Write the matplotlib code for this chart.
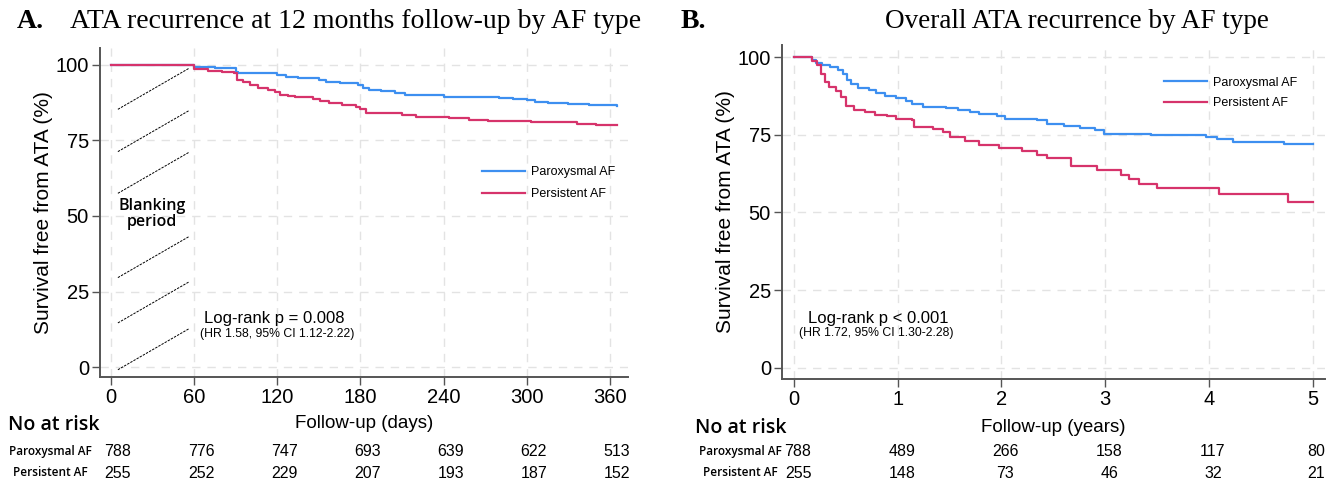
import matplotlib
matplotlib.use("Agg")
import matplotlib.pyplot as plt
import matplotlib.transforms as mtransforms

W, H = 1333, 487
fig = plt.figure(figsize=(W / 100, H / 100), dpi=100)
plt.rcParams['font.family'] = ['Liberation Sans', 'DejaVu Sans']

BLUE = '#3d8ff0'
RED = '#d6336b'
GRID = '#e3e3e3'
SPINE = '#555555'

# ---------------- data ----------------
series_labels = ['Paroxysmal AF', 'Persistent AF']

# Panel A (days)
a_par_t = [0, 60, 75, 90, 92, 120, 126, 135, 150, 155, 165, 178, 182, 186, 195, 205, 212, 225, 240, 280, 290, 300, 306, 315, 330, 345, 365]
a_par_s = [100, 99.3, 99.0, 97.8, 97.2, 96.8, 96.0, 95.6, 95.0, 94.3, 94.0, 93.2, 92.2, 91.6, 91.3, 90.8, 90.2, 89.9, 89.5, 89.2, 88.8, 88.4, 87.8, 87.5, 87.2, 86.7, 86.5]
a_per_t = [0, 60, 70, 80, 89, 91, 95, 100, 106, 113, 118, 122, 128, 133, 146, 151, 157, 167, 177, 180, 184, 210, 220, 244, 258, 272, 303, 336, 350, 365]
a_per_s = [100, 98.6, 98.1, 97.6, 97.2, 95.0, 94.2, 93.3, 92.3, 91.6, 91.0, 90.2, 89.6, 89.3, 88.8, 87.9, 87.3, 86.8, 86.0, 85.3, 84.2, 83.4, 82.9, 82.4, 81.9, 81.6, 81.1, 80.5, 80.1, 80.1]
a_xticks = [0, 60, 120, 180, 240, 300, 360]
a_risk_par = [788, 776, 747, 693, 639, 622, 513]
a_risk_per = [255, 252, 229, 207, 193, 187, 152]

# Panel B (years)
b_par_t = [0, 0.17, 0.21, 0.27, 0.35, 0.42, 0.47, 0.51, 0.55, 0.62, 0.72, 0.79, 0.88, 0.98, 1.08, 1.14, 1.24, 1.47, 1.58, 1.70, 1.78, 1.96, 2.03, 2.34, 2.44, 2.60, 2.76, 2.90, 2.99, 3.44, 3.97, 4.08, 4.23, 4.72, 5.0]
b_par_s = [100, 99.1, 98.2, 97.5, 96.8, 95.8, 94.6, 92.6, 91.2, 90.0, 89.4, 88.4, 87.5, 86.8, 85.8, 84.8, 84.0, 83.5, 83.0, 82.4, 81.7, 81.1, 80.2, 79.6, 78.6, 77.9, 77.2, 76.5, 75.3, 74.8, 74.3, 73.6, 72.7, 71.9, 71.9]
b_per_t = [0, 0.17, 0.22, 0.26, 0.30, 0.34, 0.40, 0.45, 0.50, 0.58, 0.68, 0.78, 0.90, 0.98, 1.14, 1.16, 1.34, 1.44, 1.50, 1.65, 1.78, 1.98, 2.20, 2.34, 2.44, 2.67, 2.92, 3.15, 3.23, 3.33, 3.50, 4.10, 4.76, 5.0]
b_per_s = [100, 98.8, 97.5, 94.5, 92.0, 90.3, 89.0, 87.0, 84.2, 83.1, 82.2, 81.4, 80.9, 80.2, 79.6, 77.4, 76.8, 76.0, 74.3, 72.9, 71.8, 70.8, 69.7, 68.5, 67.5, 65.0, 63.7, 62.1, 60.7, 59.3, 57.8, 55.9, 53.4, 53.4]
b_xticks = [0, 1, 2, 3, 4, 5]
b_risk_par = [788, 489, 266, 158, 117, 80]
b_risk_per = [255, 148, 73, 46, 32, 21]

yticks = [0, 25, 50, 75, 100]
blank_starts = [85.3, 71.3, 57.5, 29.6, 14.6, -0.9]


def px_axes(l, t, r, b):
    return fig.add_axes([l / W, 1 - b / H, (r - l) / W, (b - t) / H])


def style(ax, xlim, ylim, xticks):
    ax.set_xlim(*xlim)
    ax.set_ylim(*ylim)
    ax.set_xticks(xticks)
    ax.set_yticks(yticks)
    for s in ['top', 'right']:
        ax.spines[s].set_visible(False)
    for s in ['left', 'bottom']:
        ax.spines[s].set_color(SPINE)
        ax.spines[s].set_linewidth(1.4)
    ax.tick_params(direction='out', length=6, width=1.0, color=SPINE,
                   labelsize=14.5, pad=2)
    ax.grid(True, color=GRID, linestyle=(0, (6, 5)), linewidth=1.0)
    ax.set_axisbelow(True)
    ax.set_ylabel('Survival free from ATA (%)', fontsize=15, labelpad=2)


def fig_text(x, y, s, **kw):
    fig.text(x / W, 1 - y / H, s, **kw)


def risk_table(ax, xticks, rows, ys, dx):
    trans = mtransforms.blended_transform_factory(ax.transData, fig.transFigure)
    off = mtransforms.ScaledTranslation(dx / 100, 0, fig.dpi_scale_trans)
    for vals, y in zip(rows, ys):
        for x, v in zip(xticks, vals):
            ax.text(x, 1 - y / H, str(v), transform=trans + off, ha='center',
                    va='center', fontsize=11.5, clip_on=False)


# ---------------- Panel A ----------------
axA = px_axes(100, 48, 628, 377)
style(axA, (-7.9, 373), (-3.3, 105.6), a_xticks)
axA.step(a_par_t, a_par_s, where='post', color=BLUE, lw=1.6, label=series_labels[0])
axA.step(a_per_t, a_per_s, where='post', color=RED, lw=1.6, label=series_labels[1])
for s0 in blank_starts:
    axA.plot([5, 56], [s0, s0 + 13.5], color='black', lw=0.7, linestyle=(0, (2.5, 1.2)))
axA.text(29.5, 50.7, 'Blanking\nperiod', ha='center', va='center', fontsize=11.5,
         family=['Open Sans', 'DejaVu Sans'], weight='semibold', linespacing=1.05)
axA.text(118, 16.0, 'Log-rank p = 0.008', ha='center', va='center', fontsize=12)
axA.text(120, 10.8, '(HR 1.58, 95% CI 1.12-2.22)', ha='center', va='center', fontsize=8.8)
axA.legend(loc='center left', bbox_to_anchor=(0.7235, 0.5897), frameon=False,
           fontsize=9, handlelength=3.4, handletextpad=0.55, labelspacing=0.8,
           borderpad=0, borderaxespad=0)

# ---------------- Panel B ----------------
axB = px_axes(782, 45, 1325, 379)
style(axB, (-0.116, 5.12), (-3.54, 103.86), b_xticks)
axB.step(b_par_t, b_par_s, where='post', color=BLUE, lw=1.6, label=series_labels[0])
axB.step(b_per_t, b_per_s, where='post', color=RED, lw=1.6, label=series_labels[1])
axB.text(0.81, 16.0, 'Log-rank p < 0.001', ha='center', va='center', fontsize=12)
axB.text(0.79, 11.2, '(HR 1.72, 95% CI 1.30-2.28)', ha='center', va='center', fontsize=8.8)
axB.legend(loc='center left', bbox_to_anchor=(0.7035, 0.856), frameon=False,
           fontsize=9, handlelength=3.4, handletextpad=0.55, labelspacing=0.7,
           borderpad=0, borderaxespad=0)

# x-axis titles (centred under each axes)
for ax, lab, y in ((axA, 'Follow-up (days)', 424), (axB, 'Follow-up (years)', 427)):
    trans = mtransforms.blended_transform_factory(ax.transAxes, fig.transFigure)
    ax.text(0.5, 1 - y / H, lab, transform=trans, ha='center', va='center',
            fontsize=13.5, clip_on=False)

# ---------------- titles ----------------
serif = ['Liberation Serif', 'DejaVu Serif']
fig_text(17, 22, 'A.', family=serif, fontsize=20, weight='bold', va='center', ha='left')
fig_text(70, 22, 'ATA recurrence at 12 months follow-up by AF type', family=serif,
         fontsize=20, va='center', ha='left')
fig_text(681, 22, 'B.', family=serif, fontsize=20, weight='bold', va='center', ha='left')
fig_text(885, 22, 'Overall ATA recurrence by AF type', family=serif,
         fontsize=19.5, va='center', ha='left')

# ---------------- number at risk ----------------
hum = ['Open Sans', 'DejaVu Sans']
fig_text(8, 425, 'No at risk', family=hum, fontsize=14, weight='semibold', va='center', ha='left')
fig_text(695, 428, 'No at risk', family=hum, fontsize=14, weight='semibold', va='center', ha='left')
for cx in (50, 740):
    fig_text(cx, 452, series_labels[0], family=hum, fontsize=8.5, weight='semibold', va='center', ha='center')
    fig_text(cx, 473, series_labels[1], family=hum, fontsize=8.5, weight='semibold', va='center', ha='center')

risk_table(axA, a_xticks, [a_risk_par, a_risk_per], [452, 473], 7)
risk_table(axB, b_xticks, [b_risk_par, b_risk_per], [452, 473], 4)

fig.savefig('out.png', dpi=100)
